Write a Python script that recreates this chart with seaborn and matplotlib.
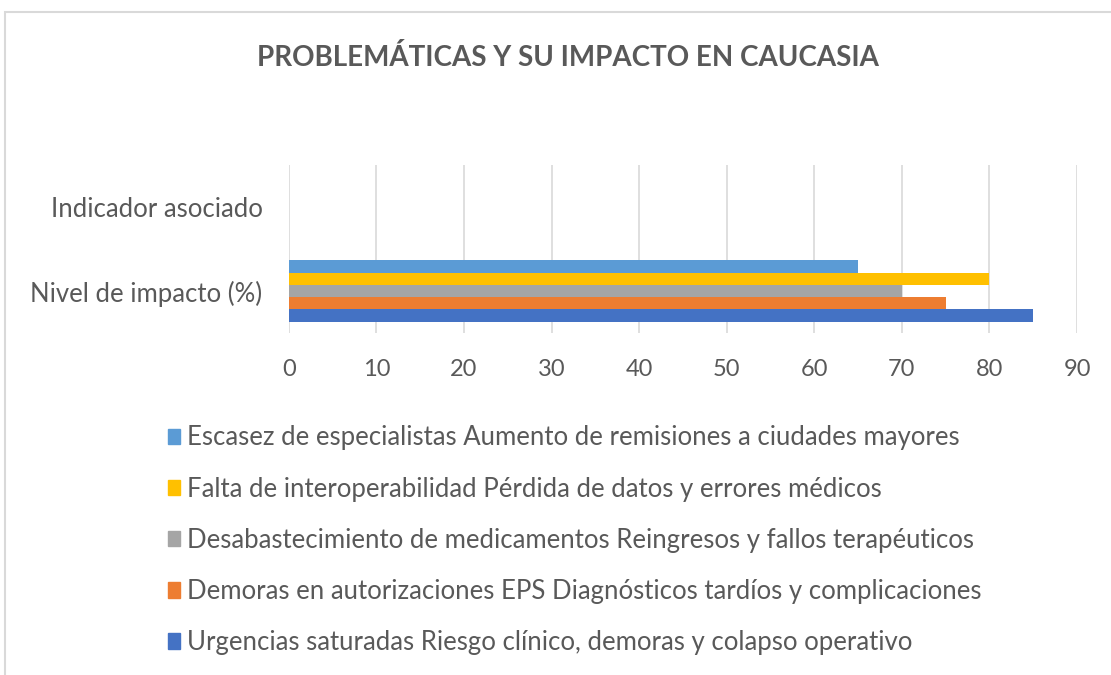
import matplotlib
matplotlib.use("Agg")
import matplotlib.pyplot as plt
import matplotlib.patches as mpatches
import numpy as np
import pandas as pd
import seaborn as sns

# data
categories = ['Indicador asociado', 'Nivel de impacto (%)']
series = [
    'Escasez de especialistas Aumento de remisiones a ciudades mayores',
    'Falta de interoperabilidad Pérdida de datos y errores médicos',
    'Desabastecimiento de medicamentos Reingresos y fallos terapéuticos',
    'Demoras en autorizaciones EPS Diagnósticos tardíos y complicaciones',
    'Urgencias saturadas Riesgo clínico, demoras y colapso operativo',
]
impact = [65, 80, 70, 75, 85]
indicator = [np.nan, np.nan, np.nan, np.nan, np.nan]
colors = ['#5B9BD5', '#FFC000', '#A5A5A5', '#ED7D31', '#4472C4']

rows = []
for s, v1, v2 in zip(series, indicator, impact):
    rows.append({'cat': categories[0], 'serie': s, 'valor': v1})
    rows.append({'cat': categories[1], 'serie': s, 'valor': v2})
df = pd.DataFrame(rows)

sns.set_style('white')
plt.rcParams['font.family'] = ['Lato', 'DejaVu Sans']
txt = '#595959'

fig = plt.figure(figsize=(11.11, 6.75), dpi=100)
ax = fig.add_axes([0.260, 0.5067, 0.7094, 0.2489])

sns.barplot(data=df, x='valor', y='cat', hue='serie', order=categories,
            hue_order=series, palette=colors, orient='h', width=0.73,
            linewidth=0, saturation=1, legend=False, ax=ax)

ax.set_xlim(0, 90)
ax.set_xticks(range(0, 91, 10))
ax.xaxis.grid(True, color='#D9D9D9', linewidth=1.2)
ax.set_axisbelow(True)
for sp in ax.spines.values():
    sp.set_visible(False)
ax.set_xlabel('')
ax.set_ylabel('')
ax.tick_params(axis='both', length=0, labelcolor=txt)
ax.tick_params(axis='x', pad=19, labelsize=17)
ax.tick_params(axis='y', pad=19, labelsize=18.5)

fig.text(0.511, 0.915, 'PROBLEMÁTICAS Y SU IMPACTO EN CAUCASIA', ha='center',
         va='center', fontsize=20, fontweight='bold', color=txt)

handles = [mpatches.Patch(color=c, label=s) for s, c in zip(series, colors)]
fig.legend(handles=handles, loc='upper left', bbox_to_anchor=(0.142, 0.385),
           ncol=1, frameon=False, fontsize=18.5, labelcolor=txt,
           handlelength=0.45, handleheight=0.55, handletextpad=0.3,
           labelspacing=1.02, borderaxespad=0)

# chart border
fig.patches.append(mpatches.Rectangle((5 / 1111, -0.1), 1.2, (1 - 12 / 675) + 0.1,
                                      transform=fig.transFigure, fill=False,
                                      edgecolor='#D9D9D9', linewidth=1.5))

fig.savefig('out.png', dpi=100)
